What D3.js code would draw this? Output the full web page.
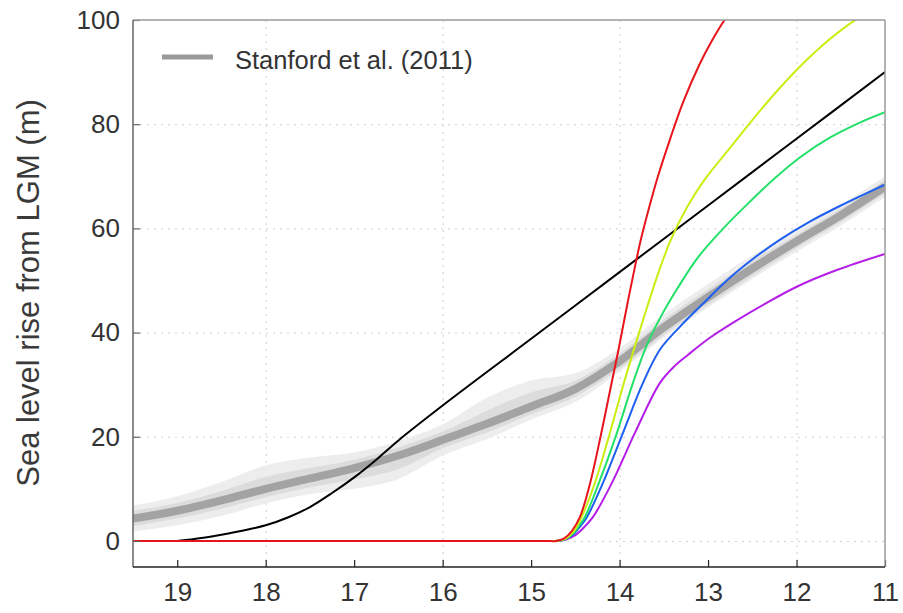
<!DOCTYPE html>
<html>
<head>
<meta charset="utf-8">
<script src="https://cdn.jsdelivr.net/npm/d3@7"></script>
<style>
  html, body { margin: 0; padding: 0; background: #fff; }
  svg { display: block; font-family: "Liberation Sans", Arial, Helvetica, sans-serif; }
</style>
</head>
<body>
<svg id="chart" width="903" height="613"></svg>
<script>
// Age (ka) and sea level rise from LGM (m)

// Stanford et al. (2011) reconstruction: central estimate and uncertainty envelopes
const stanfordAge   = [19.5, 19, 18.5, 18, 17.5, 17, 16.5, 16, 15.5, 15, 14.5, 14, 13.5, 13, 12.5, 12, 11.5, 11];
const stanfordMid   = [4.3, 5.8, 7.8, 10.0, 12.0, 14.0, 16.4, 19.4, 22.5, 25.8, 29.2, 34.5, 41.0, 46.8, 52.3, 57.5, 62.5, 68.0];
const stanfordHi2   = [6.8, 8.6, 11.3, 14.5, 16.0, 17.0, 19.2, 22.4, 27.5, 30.8, 32.2, 37.0, 43.5, 49.3, 54.8, 59.5, 64.5, 70.0];
const stanfordLo2   = [1.8, 3.0, 4.8, 7.2, 9.0, 10.0, 11.9, 16.4, 19.5, 23.3, 26.7, 32.5, 39.0, 44.8, 50.3, 55.5, 60.5, 66.0];
const stanfordHi1   = [5.8, 7.3, 9.6, 12.3, 14.0, 15.6, 18.0, 21.0, 25.0, 28.5, 30.8, 36.0, 42.5, 48.3, 53.8, 58.8, 63.8, 69.3];
const stanfordLo1   = [2.8, 4.3, 6.2, 8.4, 10.3, 11.8, 13.8, 17.8, 20.8, 24.3, 27.7, 33.0, 39.5, 45.3, 50.8, 56.2, 61.2, 66.7];

// Linear-ramp scenario
const blackAge = [19.5, 19.2, 19.0, 18.75, 18.5, 18.25, 18.0, 17.75, 17.5, 17.25, 17.0, 16.75, 16.5, 16.0, 15.0, 14.0, 13.0, 12.0, 11.0];
const blackVal = [0, 0, 0, 0.5, 1.2, 2.0, 3.0, 4.5, 6.5, 9.2, 12.2, 15.6, 19.3, 26.0, 38.8, 51.6, 64.4, 77.2, 90.0];

// Meltwater-pulse scenarios
const magentaAge = [19.5, 14.85, 14.72, 14.62, 14.52, 14.42, 14.302, 14.088, 13.828, 13.545, 13.376, 13.229, 12.98, 12.698, 12.359, 11.997, 11.545, 11.0];
const magentaVal = [0, 0, 0, 0.2, 0.9, 2.3, 4.56, 11.1, 20.7, 30.3, 33.6, 35.7, 39.0, 42.1, 45.5, 48.8, 52.0, 55.1];

const blueAge = [19.5, 14.85, 14.72, 14.62, 14.52, 14.45, 14.37, 14.189, 13.963, 13.737, 13.545, 13.319, 13.036, 12.754, 12.472, 12.19, 11.85, 11.511, 11.0];
const blueVal = [0, 0, 0, 0.25, 1.3, 2.7, 4.56, 11.1, 20.7, 30.3, 36.7, 41.1, 45.9, 50.5, 54.4, 57.8, 61.3, 64.3, 68.4];

const greenAge = [19.5, 14.85, 14.72, 14.62, 14.52, 14.46, 14.393, 14.235, 14.031, 13.85, 13.692, 13.523, 13.342, 13.116, 12.822, 12.528, 12.246, 11.963, 11.624, 11.285, 11.0];
const greenVal = [0, 0, 0, 0.3, 1.5, 2.9, 4.56, 11.1, 20.7, 30.3, 37.6, 43.4, 48.6, 54.4, 60.1, 65.1, 69.6, 73.6, 77.4, 80.3, 82.3];

const yellowAge = [19.5, 14.85, 14.72, 14.62, 14.52, 14.44, 14.28, 14.11, 13.952, 13.805, 13.681, 13.557, 13.421, 13.24, 13.037, 12.75, 12.5, 12.25, 12.0, 11.75, 11.5, 11.25, 11.0];
const yellowVal = [0, 0, 0, 0.35, 1.8, 4.2, 11.1, 20.7, 30.3, 38.6, 45.3, 51.7, 57.8, 64.0, 69.4, 75.5, 80.8, 85.8, 90.4, 94.5, 98.0, 101.0, 103.6];

const redAge = [19.5, 14.85, 14.72, 14.63, 14.54, 14.449, 14.336, 14.212, 14.099, 14.008, 13.929, 13.85, 13.76, 13.669, 13.568, 13.432, 13.285, 13.093, 12.957, 12.81, 12.64];
const redVal = [0, 0, 0, 0.45, 1.9, 4.56, 10.9, 20.3, 29.6, 37.1, 44.0, 50.7, 57.8, 63.8, 69.9, 77.0, 84.1, 91.6, 96.0, 100.1, 104.0];

// Axis ticks
const xTicks = [19, 18, 17, 16, 15, 14, 13, 12, 11];
const xGrid = [18, 16, 14, 12];
const yTicks = [0, 20, 40, 60, 80, 100];

const legendLabel = "Stanford et al. (2011)";
const yLabel = "Sea level rise from LGM (m)";

// Layout
const plot = { left: 133, right: 885, top: 20, bottom: 567 };

const svg = d3.select("#chart");

const x = d3.scaleLinear().domain([19.5, 11]).range([plot.left, plot.right]);
const y = d3.scaleLinear().domain([-5, 100]).range([plot.bottom, plot.top]);

svg.append("defs").append("clipPath").attr("id", "plotClip")
  .append("rect")
  .attr("x", plot.left).attr("y", plot.top)
  .attr("width", plot.right - plot.left).attr("height", plot.bottom - plot.top);

// Grid
const grid = svg.append("g").attr("stroke", "#cfcfcf").attr("stroke-width", 1).attr("stroke-dasharray", "2,5");
grid.selectAll("line.h").data(yTicks.filter(v => v < 100)).join("line")
  .attr("class", "h")
  .attr("x1", plot.left).attr("x2", plot.right)
  .attr("y1", d => y(d) + 0.5).attr("y2", d => y(d) + 0.5);
grid.selectAll("line.v").data(xGrid).join("line")
  .attr("class", "v")
  .attr("y1", plot.top).attr("y2", plot.bottom)
  .attr("x1", d => x(d) + 0.5).attr("x2", d => x(d) + 0.5);

const body = svg.append("g").attr("clip-path", "url(#plotClip)");

// Stanford envelopes
const stanford = stanfordAge.map((a, i) => ({
  a, mid: stanfordMid[i], hi2: stanfordHi2[i], lo2: stanfordLo2[i], hi1: stanfordHi1[i], lo1: stanfordLo1[i]
}));
const band = (lo, hi) => d3.area().curve(d3.curveMonotoneX)
  .x(d => x(d.a)).y0(d => y(d[lo])).y1(d => y(d[hi]));

body.append("path").datum(stanford).attr("d", band("lo2", "hi2")).attr("fill", "#ededed");
body.append("path").datum(stanford).attr("d", band("lo1", "hi1")).attr("fill", "#dcdcdc");
body.append("path").datum(stanford)
  .attr("d", d3.line().curve(d3.curveMonotoneX).x(d => x(d.a)).y(d => y(d.mid)))
  .attr("fill", "none").attr("stroke", "#a3a3a3").attr("stroke-width", 8).attr("stroke-linecap", "butt");

// Scenario curves
const series = [
  { age: blackAge, val: blackVal, color: "#000000" },
  { age: magentaAge, val: magentaVal, color: "#b41ee6" },
  { age: blueAge, val: blueVal, color: "#1e5ff0" },
  { age: greenAge, val: greenVal, color: "#22e068" },
  { age: yellowAge, val: yellowVal, color: "#c8ef12" },
  { age: redAge, val: redVal, color: "#e8141c" }
];
const line = d3.line().curve(d3.curveCatmullRom.alpha(0.5)).x(d => x(d[0])).y(d => y(Math.max(0, d[1])));
series.forEach(s => {
  body.append("path")
    .datum(s.age.map((a, i) => [a, s.val[i]]))
    .attr("d", line)
    .attr("fill", "none")
    .attr("stroke", s.color)
    .attr("stroke-width", 2)
    .attr("stroke-linejoin", "round");
});

// Axes
const xAxis = d3.axisBottom(x).tickValues(xTicks).tickFormat(d3.format("d"))
  .tickSizeInner(-7).tickSizeOuter(0).tickPadding(16);
const gx = svg.append("g").attr("transform", `translate(0,${plot.bottom})`).call(xAxis);
gx.select(".domain").remove();
gx.selectAll(".tick line").attr("stroke", "#222").attr("stroke-width", 1.2);
gx.selectAll("text").attr("fill", "#333").attr("font-size", 26)
  .style("font-family", "'Liberation Sans', Arial, sans-serif");

const yAxis = d3.axisLeft(y).tickValues(yTicks).tickFormat(d3.format("d"))
  .tickSizeInner(-7).tickSizeOuter(0).tickPadding(13);
const gy = svg.append("g").attr("transform", `translate(${plot.left},0)`).call(yAxis);
gy.select(".domain").remove();
gy.selectAll(".tick line").attr("stroke", "#666").attr("stroke-width", 1.2);
gy.selectAll("text").attr("fill", "#333").attr("font-size", 26)
  .style("font-family", "'Liberation Sans', Arial, sans-serif");

// Frame
const frame = svg.append("g").attr("fill", "none").attr("stroke-width", 1.5);
frame.append("line").attr("x1", plot.left).attr("x2", plot.right).attr("y1", plot.top).attr("y2", plot.top).attr("stroke", "#9a9a9a");
frame.append("line").attr("x1", plot.right).attr("x2", plot.right).attr("y1", plot.top).attr("y2", plot.bottom).attr("stroke", "#9a9a9a");
frame.append("line").attr("x1", plot.left).attr("x2", plot.left).attr("y1", plot.top).attr("y2", plot.bottom).attr("stroke", "#666");
frame.append("line").attr("x1", plot.left).attr("x2", plot.right).attr("y1", plot.bottom).attr("y2", plot.bottom).attr("stroke", "#222");

// Y axis title
svg.append("text")
  .attr("transform", "translate(39,293) rotate(-90)")
  .attr("text-anchor", "middle")
  .attr("fill", "#3a3a3a")
  .attr("font-size", 31)
  .text(yLabel);

// Legend
const legend = svg.append("g");
legend.append("line").attr("x1", 162).attr("x2", 213).attr("y1", 57).attr("y2", 57)
  .attr("stroke", "#9a9a9a").attr("stroke-width", 5);
legend.append("text").attr("x", 235).attr("y", 60).attr("dy", "0.35em")
  .attr("fill", "#333").attr("font-size", 25.5).text(legendLabel);
</script>
</body>
</html>
